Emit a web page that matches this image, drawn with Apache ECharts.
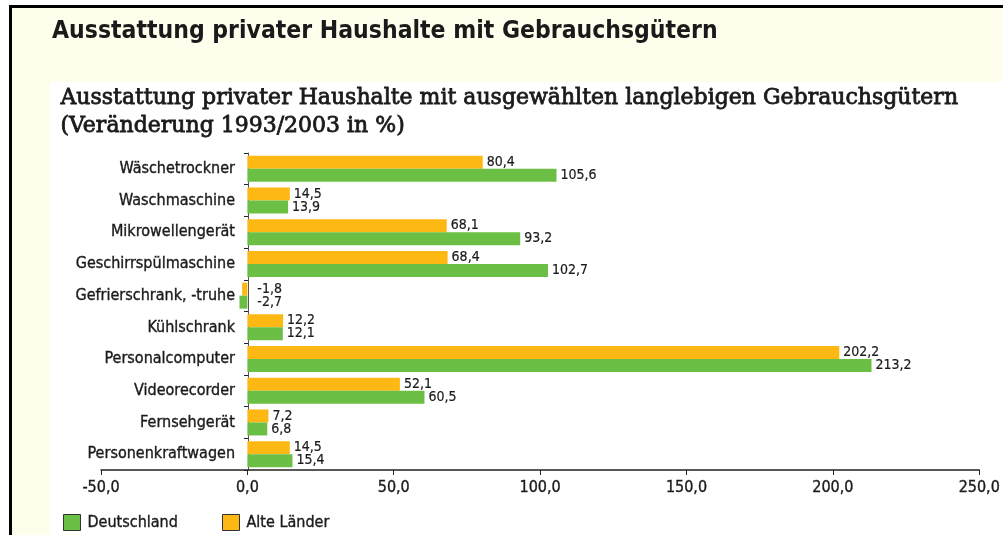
<!DOCTYPE html>
<html><head><meta charset="utf-8">
<script src="https://cdn.jsdelivr.net/npm/echarts@6/dist/echarts.min.js"></script>
<style>html,body{margin:0;padding:0;background:#fff}#c{width:1003px;height:535px}</style>
</head><body><div id="c"></div>
<script>
const categories = ['Wäschetrockner','Waschmaschine','Mikrowellengerät','Geschirrspülmaschine','Gefrierschrank, -truhe','Kühlschrank','Personalcomputer','Videorecorder','Fernsehgerät','Personenkraftwagen'];
const alteLaender = [80.4,14.5,68.1,68.4,-1.8,12.2,202.2,52.1,7.2,14.5];
const deutschland = [105.6,13.9,93.2,102.7,-2.7,12.1,213.2,60.5,6.8,15.4];
const xTicks = [-50,0,50,100,150,200,250];
const titleText = 'Ausstattung privater Haushalte mit Gebrauchsgütern';
const subtitleText = 'Ausstattung privater Haushalte mit ausgewählten langlebigen Gebrauchsgütern\n(Veränderung 1993/2003 in %)';

const fmt = v => Number(v).toFixed(1).replace('.', ',');
const COND = '"DejaVu Sans Condensed","Liberation Sans Narrow",sans-serif';
const INK = '#1a1a1a';
const heavy = {textBorderColor: INK, textBorderWidth: 0.35};

function mkData(arr){
  return arr.map(v => v < 0 ? {value: v, label: {distance: 10}} : v);
}
const labelCfg = Object.assign({show: true, position: 'right', distance: 4, color: INK, fontFamily: COND, fontSize: 14, formatter: p => fmt(p.value)}, {textBorderColor: INK, textBorderWidth: 0.2});

const chart = echarts.init(document.getElementById('c'), null, {renderer: 'canvas'});
chart.setOption({
  animation: false,
  backgroundColor: '#fff',
  graphic: [
    {type: 'rect', z: -10, shape: {x: 0, y: 0, width: 1003, height: 535}, style: {fill: '#fff'}},
    {type: 'rect', z: -9, shape: {x: 12, y: 6, width: 991, height: 529}, style: {fill: '#FFFDEB'}},
    {type: 'rect', z: -8, shape: {x: 50, y: 82, width: 953, height: 453}, style: {fill: '#fff'}},
    {type: 'rect', z: -7, shape: {x: 9, y: 5, width: 994, height: 3}, style: {fill: '#000'}},
    {type: 'rect', z: -7, shape: {x: 9, y: 5, width: 3, height: 530}, style: {fill: '#000'}},
    {type: 'text', left: 52, top: 19, style: {text: titleText, font: 'bold 24.5px "Liberation Sans Narrow","DejaVu Sans Condensed",sans-serif', fill: INK}},
    {type: 'text', left: 60, top: 84, style: {text: subtitleText, font: '22px "DejaVu Serif","Liberation Serif",serif', lineHeight: 28, fill: INK, stroke: INK, lineWidth: 0.8}}
  ],
  grid: {left: 101, right: 20, top: 153, bottom: 65, containLabel: false},
  legend: {
    data: ['Deutschland', 'Alte Länder'],
    left: 58, top: 509, itemWidth: 17, itemHeight: 16, itemGap: 44, icon: 'rect',
    textStyle: Object.assign({fontFamily: COND, fontSize: 16, color: INK, padding: [0, 0, 0, 2]}, heavy),
    itemStyle: {borderColor: '#333', borderWidth: 1}
  },
  xAxis: {
    type: 'value', min: -50, max: 250, interval: 50, position: 'bottom',
    axisLine: {show: true, lineStyle: {color: '#222', width: 1.5}},
    axisTick: {show: true, length: 5, lineStyle: {color: '#222'}},
    splitLine: {show: false},
    axisLabel: Object.assign({color: INK, fontFamily: COND, fontSize: 16, margin: 10, formatter: v => fmt(v)}, heavy)
  },
  yAxis: {
    type: 'category', data: categories, inverse: true,
    axisLine: {show: true, onZero: false, lineStyle: {color: '#555', width: 1}},
    axisTick: {show: true, length: 4, lineStyle: {color: '#222'}},
    axisLabel: Object.assign({color: INK, fontFamily: COND, fontSize: 16, margin: 13}, heavy),
    position: 'left', offset: -147
  },
  series: [
    {name: 'Alte Länder', type: 'bar', data: mkData(alteLaender), barGap: '0%', barCategoryGap: '18%',
     itemStyle: {color: '#FDB813'}, label: labelCfg},
    {name: 'Deutschland', type: 'bar', data: mkData(deutschland), barGap: '0%', barCategoryGap: '18%',
     itemStyle: {color: '#6CBF45'}, label: labelCfg}
  ]
});
</script></body></html>
